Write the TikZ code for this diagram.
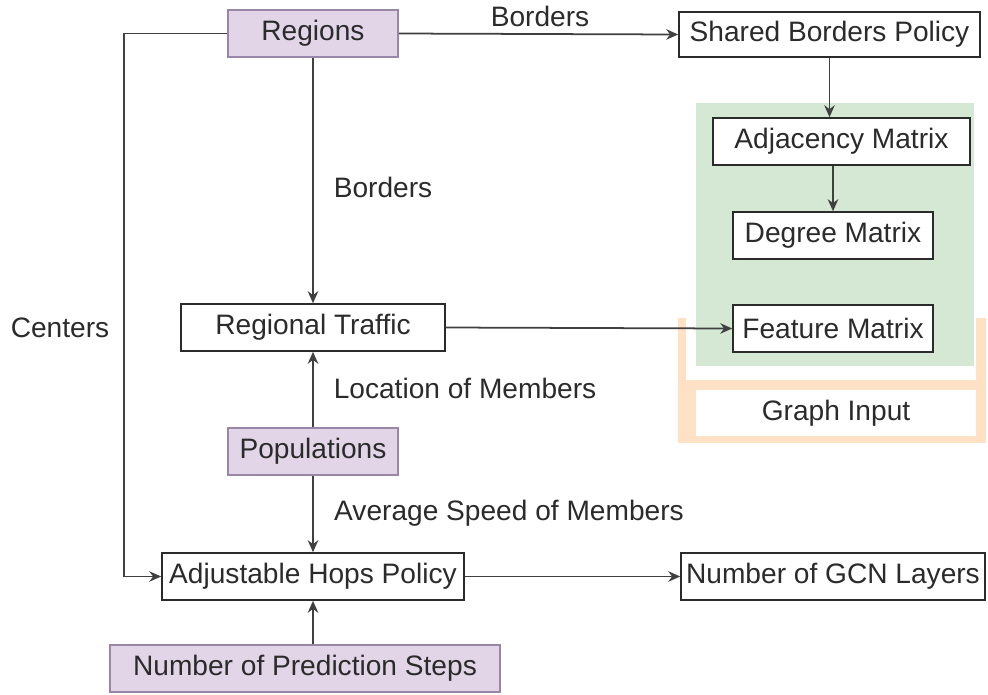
\documentclass[tikz,border=0pt]{standalone}
\usepackage{fontspec}
\setmainfont{Liberation Sans}
\usetikzlibrary{arrows.meta}

\definecolor{inkgray}{HTML}{2B2B2B}
\definecolor{lilacfill}{HTML}{E1D5E7}
\definecolor{lilacline}{HTML}{9A86A6}
\definecolor{mintfill}{HTML}{D5E8D4}
\definecolor{peachfill}{HTML}{FFE2C6}

\tikzset{
  box/.style={draw=inkgray, line width=0.9pt, fill=white, minimum height=0.94cm,
    inner sep=0pt, text=inkgray, font=\fontsize{16}{19}\selectfont},
  inbox/.style={box, fill=lilacfill, draw=lilacline},
  lbl/.style={text=inkgray, inner sep=0pt, font=\fontsize{16}{19}\selectfont},
  arr/.style={draw=inkgray!90, line width=1pt, -{Stealth[length=2.4mm,width=2.1mm]}}
}

\begin{document}
\begin{tikzpicture}[x=0.02cm,y=-0.02cm]
  \useasboundingbox (0,0) rectangle (988,694);

  % graph input frame
  \fill[peachfill] (678,318) rectangle (986,443);
  \fill[white] (686,310) rectangle (976,380);
  \node[box, draw=none, minimum width=5.6cm, minimum height=0.92cm] (gin) at (836,413) {Graph Input};
  \fill[mintfill] (696,103) rectangle (974,366);

  % boxes
  \node[inbox, minimum width=3.4cm] (reg) at (313,33.5) {Regions};
  \node[box, minimum width=6.02cm, minimum height=0.9cm] (sbp) at (829.5,34.5) {Shared Borders Policy};
  \node[box, minimum width=5.14cm] (adj) at (841.5,141.5) {Adjacency Matrix};
  \node[box, minimum width=4cm] (deg) at (833,235.5) {Degree Matrix};
  \node[box, minimum width=4cm] (feat) at (833,328.5) {Feature Matrix};
  \node[box, minimum width=5.28cm] (traf) at (313,327.5) {Regional Traffic};
  \node[inbox, minimum width=3.4cm] (pop) at (313,451.5) {Populations};
  \node[box, minimum width=6.04cm] (hops) at (313,576.5) {Adjustable Hops Policy};
  \node[box, minimum width=6.08cm] (gcn) at (833,576.5) {Number of GCN Layers};
  \node[inbox, minimum width=7.8cm] (steps) at (305,668.5) {Number of Prediction Steps};

  % connectors
  \coordinate (ctr) at (124,33.5);
  \draw[arr] (reg.west) -- (ctr) |- (hops.west);
  \draw[arr] (reg.east) -- (sbp.west);
  \draw[arr] (sbp.south) -- (sbp.south |- adj.north);
  \draw[arr] (deg.north |- adj.south) -- (deg.north);
  \draw[arr] (reg.south) -- (traf.north);
  \draw[arr] (traf.east) -- (feat.west);
  \draw[arr] (pop.north) -- (traf.south);
  \draw[arr] (pop.south) -- (hops.north);
  \draw[arr] (steps.north -| hops.south) -- (hops.south);
  \draw[arr] (hops.east) -- (gcn.west);

  % labels
  \node[lbl] (lb1) at (540,16) {Borders};
  \node[lbl] (lb2) at (383,187) {Borders};
  \node[lbl] (lb3) at (465,388) {Location of Members};
  \node[lbl] (lb4) at (509,513) {Average Speed of Members};
  \node[lbl] (lb5) at (60,328) {Centers};
\end{tikzpicture}
\end{document}
